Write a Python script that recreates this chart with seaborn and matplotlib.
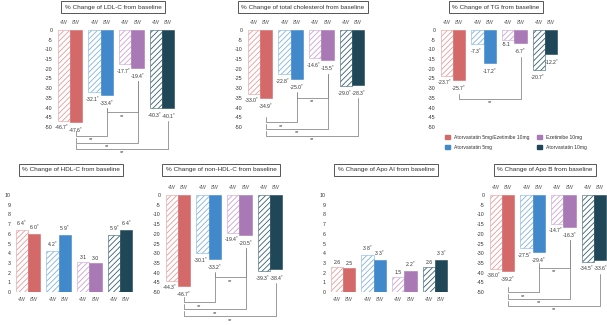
import numpy as np
import pandas as pd
import matplotlib
matplotlib.use('Agg')
import matplotlib.pyplot as plt
from matplotlib.patches import Patch
import seaborn as sns

# groups / weeks
groups = ['Atorvastatin 5mg/Ezetimibe 10mg', 'Atorvastatin 5mg', 'Ezetimibe 10mg', 'Atorvastatin 10mg']
weeks = ['4W', '8W']

# values (4W, 8W) and significance marks (1 = *)
ldl_4w = [-46.7, -32.1, -17.7, -40.3]
ldl_8w = [-47.6, -33.4, -19.4, -40.1]
ldl_sig4 = [1, 1, 1, 1]
ldl_sig8 = [1, 1, 1, 1]

tc_4w = [-33.0, -22.8, -14.6, -29.0]
tc_8w = [-34.9, -25.0, -15.5, -28.3]
tc_sig4 = [1, 1, 1, 1]
tc_sig8 = [1, 1, 1, 1]

tg_4w = [-23.7, -7.3, -5.1, -20.7]
tg_8w = [-25.7, -17.2, -6.7, -12.2]
tg_sig4 = [1, 1, 0, 1]
tg_sig8 = [1, 1, 1, 1]

hdl_4w = [6.4, 4.2, 3.1, 5.9]
hdl_8w = [6.0, 5.9, 3.0, 6.4]
hdl_sig4 = [1, 1, 0, 1]
hdl_sig8 = [1, 1, 0, 1]

nonhdl_4w = [-44.3, -30.1, -19.4, -39.3]
nonhdl_8w = [-46.7, -33.2, -20.5, -38.4]
nonhdl_sig4 = [1, 1, 1, 1]
nonhdl_sig8 = [1, 1, 1, 1]

apoa_4w = [2.6, 3.8, 1.5, 2.6]
apoa_8w = [2.5, 3.3, 2.2, 3.3]
apoa_sig4 = [0, 1, 0, 0]
apoa_sig8 = [0, 1, 1, 1]

apob_4w = [-38.0, -27.5, -14.7, -34.5]
apob_8w = [-39.2, -29.4, -16.3, -33.6]
apob_sig4 = [1, 1, 1, 1]
apob_sig8 = [1, 1, 1, 1]

# significance brackets between 8W bars: (group i, group j, level of the line)
ldl_brackets = [(0, 1, -54.6), (1, 2, -42.5), (0, 2, -58.0), (0, 3, -61.3)]
tc_brackets = [(0, 1, -47.5), (1, 2, -35.0), (0, 2, -51.0), (0, 3, -54.5)]
tg_brackets = [(0, 2, -35.5)]
nonhdl_brackets = [(1, 2, -42.3), (0, 1, -55.2), (0, 2, -58.8), (0, 3, -62.4)]
apob_brackets = [(1, 2, -37.6), (0, 1, -50.0), (0, 2, -53.6), (0, 3, -57.2)]

colors = ['#D4696A', '#4189CB', '#A979B6', '#1F4757']
hatch_colors = ['#E49C9C', '#80B2E0', '#C9A3D2', '#36606F']

sns.set_style('white')
plt.rcParams['font.family'] = ['Liberation Sans', 'DejaVu Sans']
plt.rcParams['hatch.linewidth'] = 0.6
plt.rcParams['axes.unicode_minus'] = False

FW, FH = 607, 325
S = 30.7  # px per group
fig = plt.figure(figsize=(FW / 100, FH / 100), dpi=100)
TXT = '#333333'


def make_ax(c0, ytop, ybot):
    left = c0 - 0.5 * S
    return fig.add_axes([left / FW, 1 - ybot / FH, 4 * S / FW, (ybot - ytop) / FH])


def draw_panel(ax, title, v4, v8, s4, s8, neg, brackets, title_off):
    df = pd.DataFrame({'group': groups * 2,
                       'week': ['4W'] * 4 + ['8W'] * 4,
                       'value': v4 + v8})
    sns.barplot(data=df, x='group', y='value', hue='week', order=groups,
                hue_order=weeks, width=0.8, errorbar=None, legend=False,
                palette=['white', 'white'], ax=ax)
    for k, bar in enumerate(ax.containers[0]):
        bar.set_facecolor('white')
        bar.set_hatch('//////')
        bar.set_edgecolor(hatch_colors[k])
        bar.set_linewidth(0.4)
    for k, bar in enumerate(ax.containers[1]):
        bar.set_facecolor(colors[k])
        bar.set_edgecolor(colors[k])
        bar.set_linewidth(0.4)

    ax.set_xlim(-0.5, 3.5)
    if neg:
        ax.set_ylim(-50, 0)
        ticks = list(range(0, -51, -5))
    else:
        ax.set_ylim(0, 10)
        ticks = list(range(0, 11))
    ax.set_yticks(ticks, [str(t) for t in ticks])
    ax.set_xticks([])
    ax.set_xlabel('')
    ax.set_ylabel('')
    ax.tick_params(axis='y', length=0, pad=1.5, labelsize=3.8, labelcolor=TXT)
    sns.despine(ax=ax, left=True, bottom=True)

    # value labels
    for k in range(4):
        for w, (vals, sig) in enumerate([(v4, s4), (v8, s8)]):
            x = k + (w - 0.5) * 0.4
            dx = -1.2 if w == 0 else 0
            txt = f'{vals[k]:.1f}' + (r'$^{*}$' if sig[k] else '')
            if neg:
                ax.annotate(txt, (x, vals[k]), xytext=(dx, -1.5 - 1.2 * w),
                            textcoords='offset points', ha='center', va='top',
                            fontsize=3.7, color=TXT, annotation_clip=False)
            else:
                ax.annotate(txt, (x, vals[k]), xytext=(0, 1.5),
                            textcoords='offset points', ha='center', va='bottom',
                            fontsize=3.7, color=TXT, annotation_clip=False)
            # week labels
            if neg:
                ax.annotate(weeks[w], (x, 1), xycoords=('data', 'axes fraction'),
                            xytext=(0, 3.5), textcoords='offset points',
                            ha='center', va='bottom', fontsize=3.8,
                            style='italic', color='#555555')
            else:
                ax.annotate(weeks[w], (x, 0), xycoords=('data', 'axes fraction'),
                            xytext=(0, -3.5), textcoords='offset points',
                            ha='center', va='top', fontsize=3.8,
                            style='italic', color='#555555')

    # brackets
    for i, j, yb in brackets:
        xi, xj = i + 0.2, j + 0.2
        ax.plot([xi, xi, xj, xj], [yb + 2.5, yb, yb, v8[j] - 7],
                color='#8a8a8a', lw=0.6, clip_on=False)
        ax.text((xi + xj) / 2, yb - 0.8, '**', ha='center', va='top',
                fontsize=4.0, color=TXT, clip_on=False)

    ax.annotate(title, (1.4, 1), xycoords=('data', 'axes fraction'),
                xytext=(0, title_off), textcoords='offset points',
                ha='center', va='center', fontsize=4.6, color=TXT,
                bbox=dict(boxstyle='square,pad=0.55', fc='white', ec='#555555', lw=0.7))


# top row
ax1 = make_ax(70, 30, 127)
draw_panel(ax1, '% Change of LDL-C from baseline', ldl_4w, ldl_8w,
           ldl_sig4, ldl_sig8, True, ldl_brackets, 16.5)
ax2 = make_ax(260, 30, 127)
draw_panel(ax2, '% Change of total cholesterol from baseline', tc_4w, tc_8w,
           tc_sig4, tc_sig8, True, tc_brackets, 16.5)
ax3 = make_ax(453, 30, 127)
draw_panel(ax3, '% Change of TG from baseline', tg_4w, tg_8w,
           tg_sig4, tg_sig8, True, tg_brackets, 16.5)

# bottom row
ax4 = make_ax(28, 195, 292)
draw_panel(ax4, '% Change of HDL-C from baseline', hdl_4w, hdl_8w,
           hdl_sig4, hdl_sig8, False, [], 18)
ax5 = make_ax(178, 195, 292)
draw_panel(ax5, '% Change of non-HDL-C from baseline', nonhdl_4w, nonhdl_8w,
           nonhdl_sig4, nonhdl_sig8, True, nonhdl_brackets, 18)
ax6 = make_ax(343, 195, 292)
draw_panel(ax6, '% Change of Apo AI from baseline', apoa_4w, apoa_8w,
           apoa_sig4, apoa_sig8, False, [], 18)
ax7 = make_ax(502, 195, 292)
draw_panel(ax7, '% Change of Apo B from baseline', apob_4w, apob_8w,
           apob_sig4, apob_sig8, True, apob_brackets, 18)

handles = [Patch(facecolor=c, edgecolor=c) for c in colors]
fig.legend(handles=handles, labels=groups, ncol=2, loc='upper left',
           bbox_to_anchor=(440 / FW, 1 - 130 / FH), frameon=False,
           fontsize=3.6, handlelength=1.0, handleheight=1.0,
           labelspacing=1.0, columnspacing=1.6, handletextpad=0.8,
           labelcolor=TXT)

fig.savefig('out.png', dpi=100, facecolor='white')
